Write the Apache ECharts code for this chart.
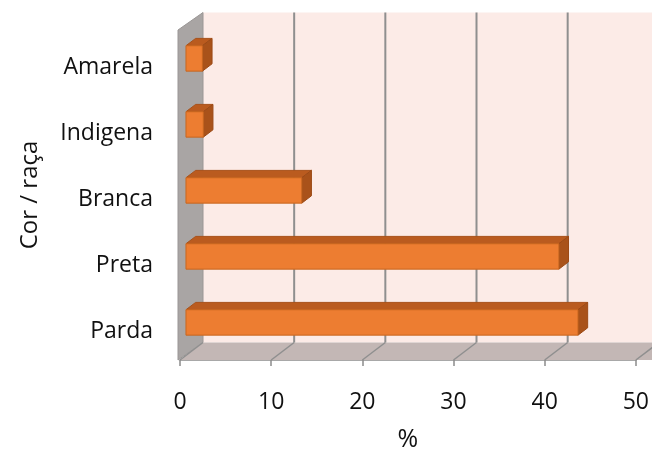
<!DOCTYPE html>
<html>
<head>
<meta charset="utf-8">
<script src="https://cdn.jsdelivr.net/npm/echarts@6/dist/echarts.min.js"></script>
<style>html,body{margin:0;padding:0;background:#fff}#c{width:652px;height:457px}</style>
</head>
<body>
<div id="c"></div>
<script>
var categories = ['Parda', 'Preta', 'Branca', 'Indigena', 'Amarela'];
var values = [43.0, 40.9, 12.7, 1.9, 1.8];
var xTicks = [0, 10, 20, 30, 40, 50];
var xName = '%';
var yName = 'Cor / raça';

var DX = 23, DY = -17.5;      // depth vector of the 3D box
var F0 = 0.26, F1 = 0.68;     // bar depth range (fraction)
var FONT = 'Open Sans';

var chart = echarts.init(document.getElementById('c'), null, {renderer: 'canvas'});

function wallsRender(params, api) {
  var cs = params.coordSys;
  var x0 = cs.x, x1 = cs.x + cs.width, yt = cs.y, yb = cs.y + cs.height;
  var children = [];
  children.push({type: 'polygon', shape: {points: [[x0 + DX, yt + DY], [x1 + DX + 30, yt + DY], [x1 + DX + 30, yb + DY], [x0 + DX, yb + DY]]},
    style: {fill: '#FCEBE7'}});
  children.push({type: 'polygon', shape: {points: [[x0 - 2, yt], [x0 + DX, yt + DY], [x0 + DX, yb + DY], [x0 - 2, yb]]},
    style: {fill: '#A9A5A4', stroke: '#9a9695', lineWidth: 1}});
  children.push({type: 'polygon', shape: {points: [[x0, yb], [x0 + DX, yb + DY], [x1 + DX + 30, yb + DY], [x1 + 30, yb]]},
    style: {fill: '#C3B7B5'}});
  xTicks.forEach(function (v) {
    var px = api.coord([v, 0])[0];
    if (v > 0) {
      children.push({type: 'line', shape: {x1: px + DX, y1: yt + DY, x2: px + DX, y2: yb + DY},
        style: {stroke: '#8F8F8F', lineWidth: 2}});
    }
    children.push({type: 'line', shape: {x1: px, y1: yb, x2: px + DX, y2: yb + DY},
      style: {stroke: '#8F8F8F', lineWidth: 1.5}});
  });
  return {type: 'group', children: children};
}

function barRender(params, api) {
  var v = api.value(0), c = api.value(1);
  var p0 = api.coord([0, c]);
  var p1 = api.coord([v, c]);
  var band = api.size([0, 1])[1];
  var h = band * 0.385;
  var fx = F0 * DX, fy = F0 * DY;
  var bdx = (F1 - F0) * DX, bdy = (F1 - F0) * DY;
  var xs = p0[0] + fx, xe = p1[0] + fx;
  var ytop = p0[1] - h / 2 + fy, ybot = p0[1] + h / 2 + fy;
  return {type: 'group', children: [
    {type: 'polygon', shape: {points: [[xs, ytop], [xe, ytop], [xe + bdx, ytop + bdy], [xs + bdx, ytop + bdy]]},
      style: {fill: '#BA5B1F', stroke: '#A85119', lineWidth: 1}},
    {type: 'polygon', shape: {points: [[xe, ytop], [xe + bdx, ytop + bdy], [xe + bdx, ybot + bdy], [xe, ybot]]},
      style: {fill: '#A9521A', stroke: '#9C4A16', lineWidth: 1}},
    {type: 'rect', shape: {x: xs, y: ytop, width: xe - xs, height: ybot - ytop},
      style: {fill: '#ED7D31', stroke: '#C8661F', lineWidth: 1}}
  ]};
}

var barData = values.map(function (v, i) { return [v, i]; });

chart.setOption({
  animation: false,
  backgroundColor: '#ffffff',
  grid: {left: 180, right: 12, top: 30, bottom: 89, containLabel: false},
  xAxis: {
    type: 'value', min: 0, max: 50, interval: 10,
    name: xName, nameLocation: 'middle', nameGap: 67,
    nameTextStyle: {fontFamily: FONT, fontSize: 25, color: '#111'},
    axisLine: {show: true, lineStyle: {color: '#8C8C8C', width: 1.5}},
    axisTick: {show: true, length: 6, lineStyle: {color: '#8C8C8C', width: 1.5}},
    axisLabel: {fontFamily: FONT, fontSize: 23, color: '#111', margin: 31},
    splitLine: {show: false}
  },
  yAxis: {
    type: 'category', data: categories,
    name: yName, nameLocation: 'middle', nameGap: 138, nameRotate: 90,
    nameTextStyle: {fontFamily: FONT, fontSize: 24, color: '#111'},
    axisLine: {show: false}, axisTick: {show: false},
    axisLabel: {fontFamily: FONT, fontSize: 23, color: '#111', margin: 27, verticalAlign: 'top', lineHeight: 8},
    splitLine: {show: false}
  },
  series: [
    {type: 'custom', renderItem: wallsRender, data: [[0, 0]], z: 1, silent: true, clip: false},
    {type: 'custom', renderItem: barRender, data: barData, z: 2, clip: false,
      encode: {x: 0, y: 1}}
  ]
});
</script>
</body>
</html>
